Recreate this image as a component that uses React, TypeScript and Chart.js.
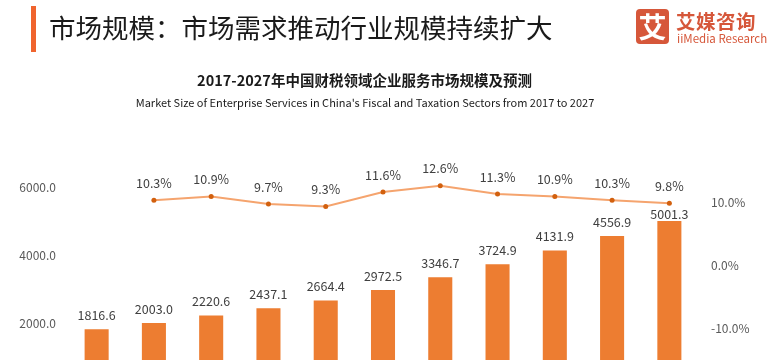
import React, { useEffect, useRef } from "react";
import { Chart, registerables } from "chart.js";

Chart.register(...registerables);

const years = ["2017", "2018", "2019", "2020", "2021", "2022", "2023", "2024", "2025", "2026", "2027"];
const marketSize = [1816.6, 2003.0, 2220.6, 2437.1, 2664.4, 2972.5, 3346.7, 3724.9, 4131.9, 4556.9, 5001.3];
const growthRate = [null, 10.3, 10.9, 9.7, 9.3, 11.6, 12.6, 11.3, 10.9, 10.3, 9.8];
const leftTicks = [0, 2000, 4000, 6000];
const rightTicks = [-20, -10, 0, 10];

const FONT = '"Noto Sans CJK SC", "Noto Sans", sans-serif';

const labelPlugin = {
  id: "valueLabels",
  afterDatasetsDraw(chart: any) {
    const ctx = chart.ctx;
    ctx.save();
    ctx.textAlign = "center";
    ctx.textBaseline = "middle";
    ctx.font = `12.5px ${FONT}`;
    ctx.fillStyle = "#404040";
    const barMeta = chart.getDatasetMeta(0);
    const lineMeta = chart.getDatasetMeta(1);
    barMeta.data.forEach((el: any, i: number) => {
      let y = el.y - 14;
      const pt = lineMeta.data[i];
      const v = growthRate[i];
      if (pt && v !== null && v !== undefined && y - 7 < pt.y + 4) {
        y = Math.max(y, pt.y + 10.5);
      }
      ctx.fillText(marketSize[i].toFixed(1), el.x, y);
    });
    lineMeta.data.forEach((el: any, i: number) => {
      const v = growthRate[i];
      if (v === null || v === undefined) return;
      ctx.fillText(v.toFixed(1) + "%", el.x, el.y - 17);
    });
    ctx.restore();
  },
};

function ChartCanvas() {
  const ref = useRef<HTMLCanvasElement>(null);
  useEffect(() => {
    if (!ref.current) return;
    const chart = new Chart(ref.current, {
      type: "bar",
      data: {
        labels: years,
        datasets: [
          {
            type: "bar",
            data: marketSize,
            backgroundColor: "#ED7D31",
            categoryPercentage: 1,
            barPercentage: 0.42,
            yAxisID: "y",
            order: 2,
          },
          {
            type: "line",
            data: growthRate as any,
            borderColor: "#F5A46E",
            borderWidth: 2,
            pointRadius: 2.5,
            pointBackgroundColor: "#D2600E",
            pointBorderColor: "#D2600E",
            pointBorderWidth: 0,
            tension: 0,
            yAxisID: "y1",
            order: 1,
          },
        ],
      },
      options: {
        responsive: false,
        animation: false,
        devicePixelRatio: 1,
        layout: { padding: { left: 0, right: 0, top: 153, bottom: 29 } },
        plugins: { legend: { display: false }, tooltip: { enabled: false }, title: { display: false } },
        scales: {
          x: { display: false, offset: true, grid: { display: false } },
          y: {
            position: "left",
            min: 0,
            max: 7000,
            grid: { display: false, drawTicks: false },
            border: { display: false },
            afterBuildTicks: (s: any) => {
              s.ticks = leftTicks.map((v) => ({ value: v }));
            },
            afterFit: (s: any) => {
              s.width = 68;
            },
            ticks: {
              padding: 12,
              color: "#595959",
              font: { family: FONT, size: 12 },
              callback: (v: any) => Number(v).toFixed(1),
            },
          },
          y1: {
            position: "right",
            min: -20,
            max: 17.8,
            grid: { display: false, drawTicks: false },
            border: { display: false },
            afterBuildTicks: (s: any) => {
              s.ticks = rightTicks.map((v) => ({ value: v }));
            },
            afterFit: (s: any) => {
              s.width = 72;
            },
            ticks: {
              padding: 13,
              color: "#595959",
              font: { family: FONT, size: 12 },
              callback: (v: any) => Number(v).toFixed(1) + "%",
            },
          },
        },
      },
      plugins: [labelPlugin],
    } as any);
    return () => chart.destroy();
  }, []);
  return (
    <canvas
      ref={ref}
      width={770}
      height={420}
      style={{ position: "absolute", left: 0, top: 0, width: 770, height: 420 }}
    />
  );
}

export default function App() {
  return (
    <div
      style={{
        position: "absolute",
        left: 0,
        top: 0,
        width: 770,
        height: 360,
        overflow: "hidden",
        background: "#ffffff",
        fontFamily: FONT,
      }}
    >
      <ChartCanvas />
      <div style={{ position: "absolute", left: 31, top: 6, width: 5, height: 46, background: "#F0642E" }} />
      <div
        style={{
          position: "absolute",
          left: 49,
          top: 13,
          fontSize: 26.5,
          lineHeight: "28px",
          color: "#1a1a1a",
          whiteSpace: "nowrap",
        }}
      >
        市场规模：市场需求推动行业规模持续扩大
      </div>
      <div
        style={{
          position: "absolute",
          left: 636,
          top: 9,
          width: 33,
          height: 35,
          borderRadius: 4,
          background: "#D6573A",
          color: "#ffffff",
          fontSize: 28,
          fontWeight: "bold",
          lineHeight: "35px",
          textAlign: "center",
        }}
      >
        艾
      </div>
      <div
        style={{
          position: "absolute",
          left: 676,
          top: 9,
          fontSize: 19.5,
          fontWeight: "bold",
          lineHeight: "24px",
          color: "#D6573A",
          whiteSpace: "nowrap",
          letterSpacing: 0.5,
        }}
      >
        艾媒咨询
      </div>
      <div
        style={{
          position: "absolute",
          left: 677,
          top: 31,
          fontSize: 11.5,
          lineHeight: "14px",
          color: "#D6573A",
          whiteSpace: "nowrap",
        }}
      >
        iiMedia Research
      </div>
      <div
        style={{
          position: "absolute",
          left: 0,
          top: 70,
          width: 729,
          textAlign: "center",
          fontSize: 14.5,
          fontWeight: "bold",
          lineHeight: "20px",
          color: "#1a1a1a",
          whiteSpace: "nowrap",
        }}
      >
        2017-2027年中国财税领域企业服务市场规模及预测
      </div>
      <div
        style={{
          position: "absolute",
          left: 0,
          top: 94,
          width: 730,
          textAlign: "center",
          fontSize: 11,
          lineHeight: "16px",
          color: "#1a1a1a",
          whiteSpace: "nowrap",
        }}
      >
        Market Size of Enterprise Services in China's Fiscal and Taxation Sectors from 2017 to 2027
      </div>
    </div>
  );
}
